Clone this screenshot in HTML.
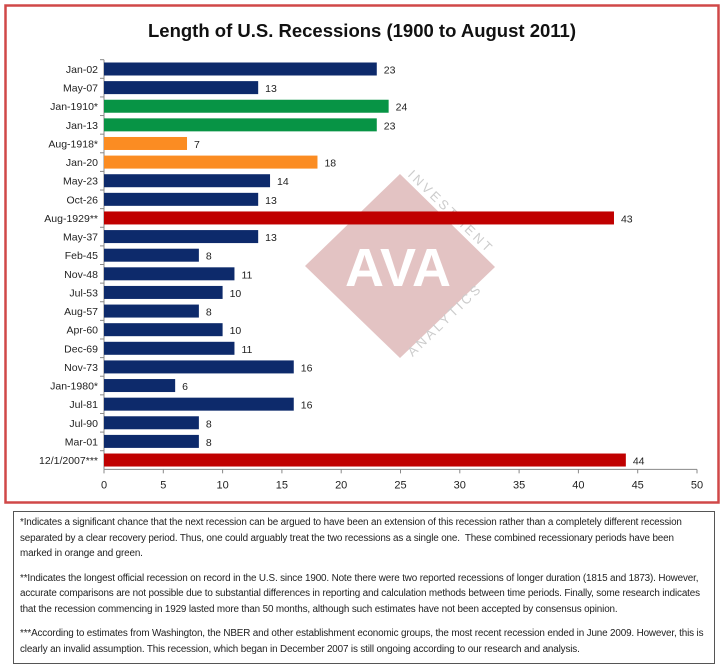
<!DOCTYPE html>
<html><head><meta charset="utf-8"><style>
body{margin:0;width:724px;height:669px;background:#fff;overflow:hidden;font-family:"Liberation Sans",sans-serif;}
#notes{position:absolute;left:13px;top:511px;width:688px;height:145px;border:1.5px solid #555;padding:3px 6px;font-size:9.9px;line-height:15.5px;color:#222;letter-spacing:-0.15px}
#notes p{margin:0 0 9px 0}
</style></head><body>
<svg id="chart" width="724" height="510" style="position:absolute;left:0;top:0">
<rect x="5.5" y="5.5" width="713" height="497" fill="#fff" stroke="#d04848" stroke-width="2.5"/>
<text x="362" y="37" text-anchor="middle" font-family="Liberation Sans, sans-serif" font-weight="bold" font-size="18.5" fill="#111">Length of U.S. Recessions (1900 to August 2011)</text>
<g>
<polygon points="400,174 495,267 400,358 305,266" fill="#e3c3c3"/>
<text x="398" y="286" text-anchor="middle" font-family="Liberation Sans, sans-serif" font-weight="bold" font-size="54" fill="#fff">AVA</text>
<text transform="translate(448,215) rotate(44)" text-anchor="middle" font-family="Liberation Sans, sans-serif" font-size="13" letter-spacing="3" fill="#ccc">INVESTMENT</text>
<text transform="translate(448,323) rotate(-44)" text-anchor="middle" font-family="Liberation Sans, sans-serif" font-size="13" letter-spacing="3" fill="#ccc">ANALYTICS</text>
</g>
<g id="plot"></g>
</svg>
<div id="notes">
<p>*Indicates a significant chance that the next recession can be argued to have been an extension of this recession rather than a completely different recession separated by a clear recovery period. Thus, one could arguably treat the two recessions as a single one.&nbsp; These combined recessionary periods have been marked in orange and green.</p>
<p>**Indicates the longest official recession on record in the U.S. since 1900. Note there were two reported recessions of longer duration (1815 and 1873). However, accurate comparisons are not possible due to substantial differences in reporting and calculation methods between time periods. Finally, some research indicates that the recession commencing in 1929 lasted more than 50 months, although such estimates have not been accepted by consensus opinion.</p>
<p>***According to estimates from Washington, the NBER and other establishment economic groups, the most recent recession ended in June 2009. However, this is clearly an invalid assumption. This recession, which began in December 2007 is still ongoing according to our research and analysis.</p>
</div>
<script>
const categories=["Jan-02","May-07","Jan-1910*","Jan-13","Aug-1918*","Jan-20","May-23","Oct-26","Aug-1929**","May-37","Feb-45","Nov-48","Jul-53","Aug-57","Apr-60","Dec-69","Nov-73","Jan-1980*","Jul-81","Jul-90","Mar-01","12/1/2007***"];
const months=[23,13,24,23,7,18,14,13,43,13,8,11,10,8,10,11,16,6,16,8,8,44];
const groups=["n","n","g","g","o","o","n","n","r","n","n","n","n","n","n","n","n","n","n","n","n","r"];
const ticks=[0,5,10,15,20,25,30,35,40,45,50];
const colors={n:"#0d2a6b",g:"#079445",o:"#fb8c22",r:"#c00000"};
const NS="http://www.w3.org/2000/svg";
const g=document.getElementById('plot');
const x=v=>104+v*(593/50);
const step=18.62, y0=69;
const y=i=>y0+i*step;
function mk(t,a){const e=document.createElementNS(NS,t);for(const k in a)e.setAttribute(k,a[k]);g.appendChild(e);return e;}
const axisY=y(categories.length-1)+step/2;
const yl=mk('line',{x1:x(0),x2:x(0),y1:y(0)-step/2,y2:axisY,stroke:'#888'});


categories.forEach((c,i)=>{
  mk('line',{x1:x(0)-4,x2:x(0),y1:y(i)-step/2,y2:y(i)-step/2,stroke:'#888'});
  const b=mk('rect',{x:x(0),y:y(i)-6.5,width:x(months[i])-x(0),height:13,fill:colors[groups[i]]});
  
  
  const l=mk('text',{x:x(0)-6,y:y(i)+4,'text-anchor':'end','font-size':10.5,fill:'#222'});
  l.textContent=c;
  
  
  const v=mk('text',{x:x(months[i])+7,y:y(i)+4.5,'font-size':10.5,fill:'#222'});
  v.textContent=months[i];
  
  
});
const xl=mk('line',{x1:x(0),x2:x(50),y1:axisY,y2:axisY,stroke:'#888'});


ticks.forEach(t=>{
  mk('line',{x1:x(t),x2:x(t),y1:axisY,y2:axisY+4,stroke:'#888'});
  const tl=mk('text',{x:x(t),y:axisY+19,'text-anchor':'middle','font-size':11,fill:'#222'});
  tl.textContent=t;
  
  
});
</script>
</body></html>
